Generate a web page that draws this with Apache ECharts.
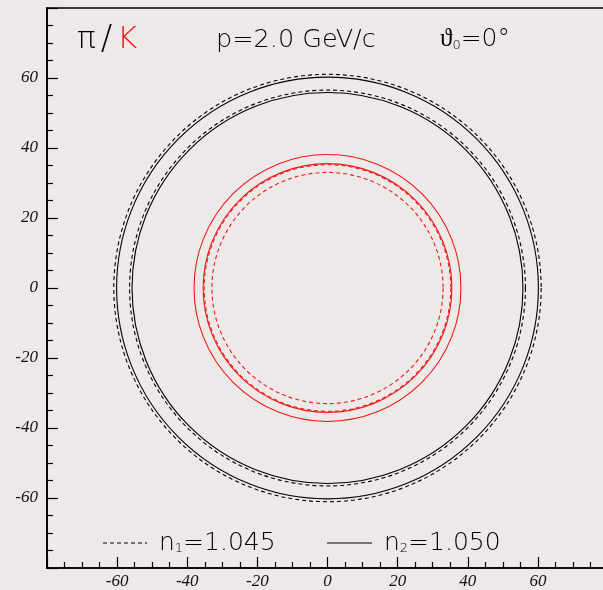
<!DOCTYPE html>
<html>
<head>
<meta charset="utf-8">
<script src="https://cdn.jsdelivr.net/npm/echarts@6/dist/echarts.min.js"></script>
<style>
html,body{margin:0;padding:0;background:#ede9e8;overflow:hidden;width:603px;height:590px;}
#c{width:620px;height:590px;}
</style>
</head>
<body>
<div id="c"></div>
<script>
// Ring radii (in plot units, centred at 0,0)
const blackDashedRadii = [61.0, 56.5];   // pi, n1 = 1.045
const blackSolidRadii  = [60.2, 55.8];   // pi, n2 = 1.050
const redDashedRadii   = [35.2, 33.0];   // K,  n1 = 1.045
const redSolidRadii    = [38.1, 35.5];   // K,  n2 = 1.050
const tickLabels = [-60, -40, -20, 0, 20, 40, 60];
const axisMin = -80, axisMax = 80, axisStep = 20;

const BG = '#ede9e8';
const RED = '#f01818';

function toData(radii){ return radii.map(r => [0, 0, r]); }

function ringSeries(radii, color, dashed){
  return {
    type: 'custom',
    coordinateSystem: 'cartesian2d',
    encode: {x: 0, y: 1},
    clip: true,
    silent: true,
    data: toData(radii),
    renderItem: function(params, api){
      const c = api.coord([api.value(0), api.value(1)]);
      const s = api.size([api.value(2), api.value(2)]);
      return {
        type: 'circle',
        shape: {cx: c[0], cy: c[1], r: (s[0] + s[1]) / 2},
        style: {fill: null, stroke: color, lineWidth: 1.1, lineDash: dashed ? [4, 3] : null}
      };
    }
  };
}

const labelFmt = v => tickLabels.indexOf(v) >= 0 ? String(v) : '';
const axisCommon = {
  type: 'value', min: axisMin, max: axisMax, interval: axisStep,
  axisLine: {show: true, onZero: false, lineStyle: {color: '#000', width: 1.6}},
  axisTick: {show: true, inside: true, length: 11, lineStyle: {color: '#000', width: 1.2}},
  minorTick: {show: true, splitNumber: 4, length: 6, lineStyle: {color: '#000', width: 1.2}},
  splitLine: {show: false},
  minorSplitLine: {show: false},
  axisLabel: {formatter: labelFmt, fontStyle: 'italic', fontFamily: 'Liberation Serif', fontSize: 17, color: '#111'}
};

const chart = echarts.init(document.getElementById('c'));
const title = 'DejaVu Sans';
chart.setOption({
  backgroundColor: BG,
  animation: false,
  grid: {left: 47, top: 8, width: 561, height: 560, show: true, borderColor: '#000', borderWidth: 1.6, backgroundColor: 'transparent'},
  xAxis: Object.assign({}, axisCommon, {axisLabel: Object.assign({}, axisCommon.axisLabel, {margin: 5})}),
  yAxis: Object.assign({}, axisCommon, {axisLabel: Object.assign({}, axisCommon.axisLabel, {margin: 9})}),
  series: [
    ringSeries(blackDashedRadii, '#000', true),
    ringSeries(blackSolidRadii, '#000', false),
    ringSeries(redDashedRadii, RED, true),
    ringSeries(redSolidRadii, RED, false)
  ],
  graphic: [
    {type: 'text', left: 77, top: 23, style: {
      text: '{a|π}{b|/}{k|K}',
      rich: {
        a: {fontFamily: title, fontWeight: 200, fontSize: 31, fill: '#000'},
        b: {fontFamily: title, fontWeight: 200, fontSize: 34, fill: '#000', padding: [0, 5, 0, 5]},
        k: {fontFamily: title, fontWeight: 200, fontSize: 31, fill: RED}
      }}},
    {type: 'text', left: 216, top: 27, style: {text: 'p=2.0 GeV/c', fontFamily: title, fontWeight: 200, fontSize: 25.5, fill: '#000'}},
    {type: 'text', left: 440, top: 27, style: {
      text: '{a|ϑ}{s|0}{a|=0°}',
      rich: {
        a: {fontFamily: title, fontWeight: 200, fontSize: 25, fill: '#000'},
        s: {fontFamily: title, fontWeight: 200, fontSize: 13, fill: '#000', verticalAlign: 'bottom', padding: [10, 0, 0, 0]}
      }}},
    // legend
    {type: 'line', shape: {x1: 103, y1: 543, x2: 147, y2: 543}, style: {stroke: '#000', lineWidth: 1.1, lineDash: [4, 3]}},
    {type: 'text', left: 159, top: 531, style: {
      text: '{a|n}{s|1}{a|=1.045}',
      rich: {
        a: {fontFamily: title, fontWeight: 200, fontSize: 25, fill: '#000'},
        s: {fontFamily: title, fontWeight: 200, fontSize: 13, fill: '#000', padding: [10, 0, 0, 0]}
      }}},
    {type: 'line', shape: {x1: 327, y1: 543, x2: 372, y2: 543}, style: {stroke: '#000', lineWidth: 1.1}},
    {type: 'text', left: 384, top: 531, style: {
      text: '{a|n}{s|2}{a|=1.050}',
      rich: {
        a: {fontFamily: title, fontWeight: 200, fontSize: 25, fill: '#000'},
        s: {fontFamily: title, fontWeight: 200, fontSize: 13, fill: '#000', padding: [10, 0, 0, 0]}
      }}}
  ]
});
</script>
</body>
</html>
